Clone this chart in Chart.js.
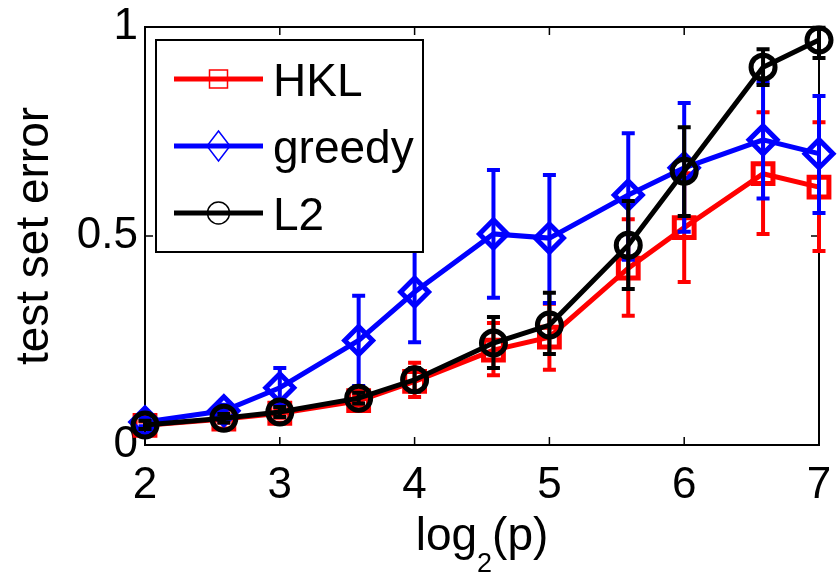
<!DOCTYPE html>
<html>
<head>
<meta charset="utf-8">
<script src="https://cdn.jsdelivr.net/npm/chart.js@4.4.1/dist/chart.umd.min.js"></script>
<style>
  html, body { margin: 0; padding: 0; background: #fff; }
</style>
</head>
<body>
<canvas id="myChart" width="838" height="574"></canvas>
<script>
  'use strict'

  // x positions, log2(p)
  const log2p = [2, 2.585, 3, 3.585, 4, 4.585, 5, 5.585, 6, 6.585, 7]

  const hklMean = [0.047, 0.062, 0.076, 0.106, 0.152, 0.227, 0.258, 0.423, 0.52, 0.649, 0.617]
  const hklLow  = [0.038, 0.053, 0.065, 0.094, 0.115, 0.167, 0.18, 0.309, 0.39, 0.505, 0.464]
  const hklHigh = [0.056, 0.071, 0.087, 0.118, 0.197, 0.292, 0.338, 0.54, 0.65, 0.796, 0.772]

  const greedyMean = [0.055, 0.082, 0.137, 0.25, 0.366, 0.505, 0.495, 0.598, 0.663, 0.73, 0.697]
  const greedyLow  = [0.045, 0.068, 0.095, 0.141, 0.246, 0.352, 0.34, 0.443, 0.51, 0.59, 0.555]
  const greedyHigh = [0.065, 0.096, 0.184, 0.357, 0.486, 0.658, 0.646, 0.746, 0.818, 0.868, 0.835]

  const l2Mean = [0.048, 0.064, 0.079, 0.112, 0.156, 0.244, 0.287, 0.478, 0.655, 0.904, 0.969]
  const l2Low  = [0.038, 0.054, 0.067, 0.099, 0.128, 0.184, 0.218, 0.373, 0.548, 0.861, 0.926]
  const l2High = [0.058, 0.074, 0.091, 0.125, 0.184, 0.306, 0.364, 0.584, 0.76, 0.947, 0.998]

  const xTicks = [2, 3, 4, 5, 6, 7]
  const yTicks = [0, 0.5, 1]

  const FONT = '"Liberation Sans", Arial, Helvetica, sans-serif'

  const series = [
    { label: 'HKL', mean: hklMean, lo: hklLow, hi: hklHigh, color: '#ff0000', style: 'rect', radius: 14 },
    { label: 'greedy', mean: greedyMean, lo: greedyLow, hi: greedyHigh, color: '#0000ff', style: 'rectRot', radius: 14 },
    { label: 'L2', mean: l2Mean, lo: l2Low, hi: l2High, color: '#000000', style: 'circle', radius: 12 }
  ]

  const noPad = (scale) => {
    scale.paddingLeft = 0
    scale.paddingRight = 0
    scale.paddingTop = 0
    scale.paddingBottom = 0
  }

  const decor = {
    id: 'decor',
    beforeDatasetsDraw(chart) {
      const { ctx, chartArea: a, scales: { x, y } } = chart
      ctx.save()
      ctx.strokeStyle = '#000'
      ctx.lineWidth = 2
      ctx.strokeRect(a.left, a.top, a.right - a.left, a.bottom - a.top)
      ctx.lineWidth = 1.5
      ctx.beginPath()
      xTicks.forEach(v => {
        const px = x.getPixelForValue(v)
        ctx.moveTo(px, a.bottom); ctx.lineTo(px, a.bottom - 8)
        ctx.moveTo(px, a.top); ctx.lineTo(px, a.top + 8)
      })
      yTicks.forEach(v => {
        const py = y.getPixelForValue(v)
        ctx.moveTo(a.left, py); ctx.lineTo(a.left + 8, py)
        ctx.moveTo(a.right, py); ctx.lineTo(a.right - 8, py)
      })
      ctx.stroke()
      ctx.restore()
    },
    beforeDatasetDraw(chart, args) {
      // error bars go under their own line and markers
      const s = series[args.index]
      const { ctx, scales: { x, y } } = chart
      ctx.save()
      ctx.strokeStyle = s.color
      ctx.lineWidth = 4
      ctx.lineCap = 'butt'
      ctx.beginPath()
      log2p.forEach((v, i) => {
        const px = x.getPixelForValue(v)
        const top = y.getPixelForValue(s.hi[i])
        const bot = y.getPixelForValue(s.lo[i])
        ctx.moveTo(px, top); ctx.lineTo(px, bot)
        ctx.moveTo(px - 6.5, top); ctx.lineTo(px + 6.5, top)
        ctx.moveTo(px - 6.5, bot); ctx.lineTo(px + 6.5, bot)
      })
      ctx.stroke()
      ctx.restore()
    },
    afterDatasetsDraw(chart) {
      // legend box
      const { ctx, chartArea: a } = chart
      const bx = a.left + 11, by = a.top + 13, bw = 267, bh = 212
      ctx.save()
      ctx.fillStyle = '#fff'
      ctx.fillRect(bx, by, bw, bh)
      ctx.strokeStyle = '#000'
      ctx.lineWidth = 2
      ctx.strokeRect(bx, by, bw, bh)
      series.forEach((s, i) => {
        const cy = by + 39 + i * 67
        const x0 = bx + 18, x1 = bx + 107, mx = (x0 + x1) / 2
        ctx.strokeStyle = s.color
        ctx.lineWidth = 5
        ctx.beginPath()
        ctx.moveTo(x0, cy); ctx.lineTo(x1, cy)
        ctx.stroke()
        ctx.lineWidth = 1.5
        ctx.beginPath()
        if (s.style === 'rect') {
          ctx.rect(mx - 9, cy - 9, 18, 18)
        } else if (s.style === 'rectRot') {
          ctx.moveTo(mx, cy - 15); ctx.lineTo(mx + 11.5, cy)
          ctx.lineTo(mx, cy + 15); ctx.lineTo(mx - 11.5, cy)
          ctx.closePath()
        } else {
          ctx.arc(mx, cy, 11, 0, Math.PI * 2)
        }
        ctx.stroke()
        ctx.fillStyle = '#000'
        ctx.font = '46px ' + FONT
        ctx.textAlign = 'left'
        ctx.textBaseline = 'alphabetic'
        ctx.fillText(s.label, bx + 117, cy + 16.5)
      })
      ctx.restore()
    },
    afterDraw(chart) {
      const { ctx, chartArea: a } = chart
      ctx.save()
      ctx.fillStyle = '#000'
      // y title
      ctx.font = '46px ' + FONT
      ctx.translate(48, (a.top + a.bottom) / 2)
      ctx.rotate(-Math.PI / 2)
      ctx.textAlign = 'center'
      ctx.textBaseline = 'alphabetic'
      ctx.fillText('test set error', 0, 0)
      ctx.setTransform(1, 0, 0, 1, 0, 0)
      // x title with subscript
      const big = '46px ' + FONT, small = '27px ' + FONT
      ctx.textAlign = 'left'
      ctx.font = big
      const w1 = ctx.measureText('log').width
      const w3 = ctx.measureText('(p)').width
      ctx.font = small
      const w2 = ctx.measureText('2').width
      let tx = (a.left + a.right) / 2 - (w1 + w2 + w3) / 2
      const base = a.bottom + 105
      ctx.font = big
      ctx.fillText('log', tx, base)
      tx += w1
      ctx.font = small
      ctx.fillText('2', tx, base + 22)
      tx += w2
      ctx.font = big
      ctx.fillText('(p)', tx, base)
      ctx.restore()
    }
  }

  const ctx = document.getElementById('myChart')

  const myChart = new Chart(ctx, {
    type: 'line',
    data: {
      datasets: series.map((s, i) => ({
        label: s.label,
        data: log2p.map((v, j) => ({ x: v, y: s.mean[j] })),
        order: series.length - 1 - i,
        borderColor: s.color,
        borderWidth: 5,
        backgroundColor: 'transparent',
        pointStyle: s.style,
        pointRadius: s.radius,
        pointBorderWidth: 5,
        pointBorderColor: s.color,
        pointBackgroundColor: 'rgba(0,0,0,0)',
        lineTension: 0,
        clip: false
      }))
    },
    options: {
      responsive: false,
      animation: false,
      layout: { padding: { top: 27, right: 13, left: 0, bottom: 0 } },
      plugins: {
        legend: { display: false },
        tooltip: { enabled: false }
      },
      scales: {
        x: {
          type: 'linear',
          min: 2,
          max: 7,
          afterFit: (scale) => { scale.height = 129; noPad(scale) },
          afterBuildTicks: (scale) => { scale.ticks = xTicks.map(v => ({ value: v })) },
          grid: { display: false, drawTicks: false },
          border: { display: false },
          ticks: {
            color: '#000',
            padding: 14,
            maxRotation: 0,
            font: { family: FONT, size: 44 },
            callback: (v) => String(v)
          }
        },
        y: {
          min: 0,
          max: 1,
          afterFit: (scale) => { scale.width = 145; noPad(scale) },
          afterBuildTicks: (scale) => { scale.ticks = yTicks.map(v => ({ value: v })) },
          grid: { display: false, drawTicks: false },
          border: { display: false },
          ticks: {
            color: '#000',
            padding: 7,
            font: { family: FONT, size: 44 },
            callback: (v) => String(v)
          }
        }
      }
    },
    plugins: [decor]
  })
</script>
</body>
</html>
